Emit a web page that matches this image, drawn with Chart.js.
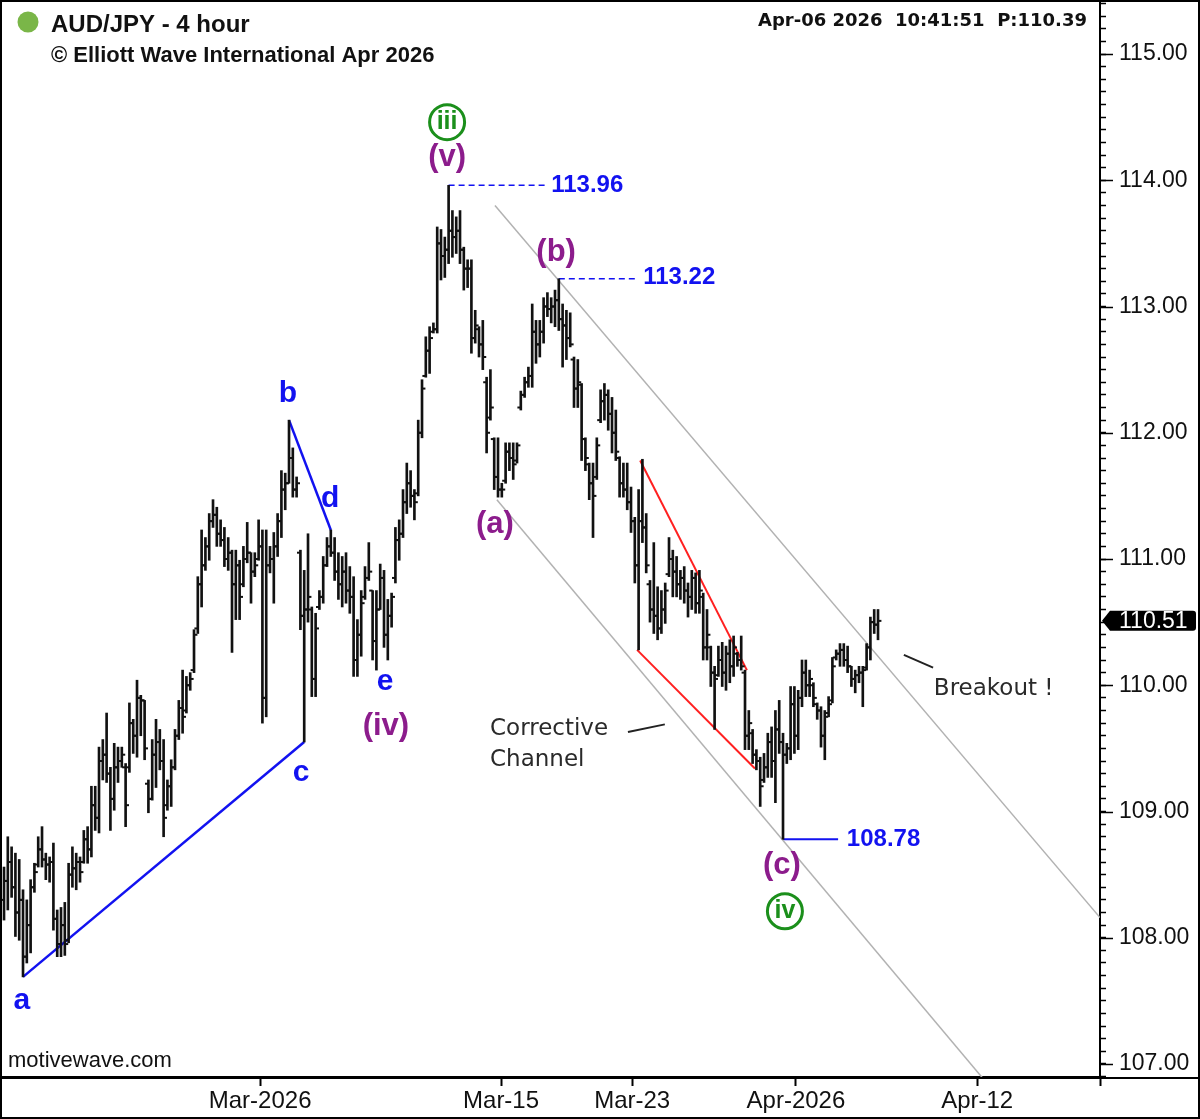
<!DOCTYPE html>
<html>
<head>
<meta charset="utf-8">
<script src="https://cdn.jsdelivr.net/npm/chart.js@4.4.1/dist/chart.umd.min.js"></script>
<style>
  html, body { margin: 0; padding: 0; background: #fff; }
  canvas { display: block; }
</style>
</head>
<body>
<canvas id="chart" width="1200" height="1119" style="width:1200px;height:1119px"></canvas>
<script>
// AUD/JPY 4 hour bars (bar index 0 = first bar on the left)
const highs = [
  108.56,108.80,108.72,108.67,108.62,108.38,108.30,108.46,108.59,108.80,
  108.88,108.67,108.64,108.75,108.22,108.24,108.28,108.59,108.72,108.67,
  108.64,108.85,108.88,109.20,109.20,109.51,109.57,109.78,109.35,109.54,
  109.51,109.51,109.38,109.86,109.73,110.04,109.92,109.88,109.25,109.57,
  109.73,109.65,109.57,109.25,109.41,109.65,109.88,110.12,110.07,110.10,
  110.44,110.86,111.23,111.17,111.36,111.47,111.41,111.31,111.25,111.17,
  111.07,111.07,110.99,111.10,111.29,111.05,111.05,111.31,111.23,111.23,
  111.10,111.21,111.36,111.70,111.68,112.10,111.88,111.65,111.07,110.91,
  111.20,110.62,110.57,110.75,111.02,111.17,111.23,111.17,111.05,111.02,
  111.05,110.94,110.86,110.52,110.75,110.94,111.13,110.75,110.75,110.96,
  110.91,110.68,110.73,111.25,111.31,111.55,111.76,111.70,111.55,112.10,
  112.42,112.76,112.84,112.87,113.63,113.61,113.55,113.96,113.76,113.71,
  113.76,113.47,113.37,113.37,112.97,112.84,112.89,112.44,112.50,111.96,
  111.96,111.60,111.92,111.92,111.92,111.92,112.33,112.44,112.52,113.02,
  112.89,112.89,113.07,113.11,113.07,113.13,113.22,113.02,112.97,112.95,
  112.60,112.58,112.39,111.96,111.76,111.76,111.96,112.34,112.39,112.34,
  112.28,112.18,111.81,111.76,111.76,111.57,111.33,111.55,111.79,111.36,
  110.83,111.13,110.78,110.75,110.81,111.17,111.07,111.02,110.91,110.94,
  110.81,110.91,110.89,110.91,110.73,110.60,110.31,110.15,110.31,110.34,
  110.31,110.36,110.39,110.26,110.39,110.12,109.80,109.65,109.49,109.43,
  109.46,109.62,109.67,109.80,109.88,109.62,109.54,109.99,109.99,109.96,
  110.20,110.20,110.12,110.02,109.86,109.83,109.80,109.91,110.22,110.28,
  110.33,110.33,110.31,110.15,110.12,110.15,110.15,110.33,110.54,110.60,
  110.60
];
const lows = [
  108.14,108.22,108.32,108.01,107.98,107.69,107.80,107.88,108.36,108.56,
  108.56,108.46,108.44,108.06,107.85,107.85,107.86,107.96,108.40,108.38,
  108.44,108.59,108.59,108.64,108.85,108.83,109.25,109.23,108.85,109.01,
  109.23,109.35,108.88,109.31,109.46,109.43,109.60,109.41,108.99,109.09,
  109.19,109.33,108.80,109.01,109.04,109.33,109.57,109.62,109.78,109.96,
  110.10,110.41,110.62,110.91,110.99,111.25,111.10,111.10,110.94,110.91,
  110.26,110.52,110.52,110.78,110.97,110.65,110.86,110.99,109.70,109.75,
  110.89,110.65,111.02,111.17,111.39,111.60,111.49,111.49,110.44,109.55,
  110.50,109.91,109.91,110.60,110.65,110.94,111.02,110.83,110.68,110.62,
  110.65,110.57,110.07,110.07,110.23,110.68,110.83,110.20,110.12,110.60,
  110.30,110.20,110.46,110.81,110.99,111.17,111.36,111.41,111.31,111.50,
  111.96,112.44,112.47,112.79,112.79,113.21,113.23,113.34,113.39,113.42,
  113.34,113.13,113.15,112.63,112.71,112.60,112.50,111.84,112.10,111.55,
  111.49,111.49,111.60,111.70,111.63,111.76,112.18,112.28,112.36,112.36,
  112.55,112.60,112.71,112.92,112.87,112.84,112.81,112.52,112.58,112.68,
  112.20,112.20,111.78,111.70,111.47,111.17,111.63,112.08,112.10,112.02,
  111.84,111.78,111.49,111.49,111.39,111.21,110.81,110.28,111.13,110.89,
  110.50,110.41,110.36,110.41,110.49,110.86,110.70,110.70,110.68,110.65,
  110.54,110.60,110.57,110.57,110.20,110.20,109.99,109.65,110.07,109.99,
  109.96,110.02,110.07,110.15,110.12,109.49,109.49,109.38,109.33,109.04,
  109.23,109.27,109.27,109.07,109.46,108.78,109.38,109.41,109.46,109.49,
  109.83,109.91,109.91,109.83,109.73,109.51,109.41,109.75,109.86,110.20,
  110.15,110.15,110.10,109.99,109.94,110.02,109.83,110.12,110.20,110.41,
  110.36
];
const opens = [
  108.30,108.45,108.60,108.40,108.20,108.30,107.85,108.10,108.40,108.58,
  108.70,108.62,108.58,108.60,108.15,107.95,108.10,107.98,108.50,108.55,
  108.60,108.60,108.78,108.70,109.05,108.95,109.40,109.45,109.30,109.10,
  109.35,109.40,109.35,109.35,109.70,109.60,109.90,109.88,109.22,109.10,
  109.45,109.55,109.40,109.05,109.20,109.35,109.60,109.82,109.80,110.00,
  110.12,110.45,110.80,110.95,111.10,111.30,111.35,111.20,111.15,111.00,
  111.05,110.80,110.95,110.80,111.00,111.05,110.90,111.00,111.10,109.90,
  110.95,111.00,111.10,111.30,111.55,111.60,111.80,111.55,111.05,110.55,
  110.60,110.60,110.05,110.62,110.70,110.95,111.10,111.05,110.90,110.80,
  110.90,110.75,110.70,110.20,110.40,110.70,110.85,110.75,110.35,110.60,
  110.85,110.40,110.55,110.85,111.15,111.20,111.45,111.60,111.50,111.52,
  112.00,112.45,112.65,112.80,112.82,113.50,113.40,113.45,113.60,113.55,
  113.60,113.45,113.30,113.30,112.75,112.82,112.70,112.40,112.12,111.95,
  111.65,111.55,111.62,111.85,111.80,111.78,112.20,112.30,112.40,112.45,
  112.80,112.70,112.80,113.00,112.98,113.00,113.05,112.90,112.85,112.75,
  112.58,112.35,112.38,111.95,111.75,111.60,111.65,112.10,112.25,112.30,
  112.15,112.00,111.80,111.60,111.55,111.45,111.30,110.95,111.30,111.25,
  110.80,110.60,110.55,110.45,110.60,110.88,111.00,110.90,110.80,110.85,
  110.75,110.70,110.85,110.65,110.70,110.30,110.30,110.10,110.08,110.20,
  110.10,110.25,110.15,110.25,110.20,110.10,109.60,109.62,109.45,109.40,
  109.25,109.35,109.55,109.40,109.65,109.55,109.45,109.50,109.85,109.60,
  109.90,110.10,110.00,110.00,109.85,109.80,109.60,109.78,109.88,110.22,
  110.25,110.28,110.20,110.15,110.05,110.08,110.10,110.14,110.30,110.50,
  110.48
];
const closes = [
  108.45,108.60,108.40,108.20,108.30,107.85,108.10,108.40,108.52,108.70,
  108.62,108.58,108.60,108.15,107.95,108.10,107.95,108.50,108.55,108.60,
  108.52,108.78,108.70,109.05,108.95,109.40,109.45,109.30,109.10,109.35,
  109.40,109.45,109.05,109.70,109.60,109.90,109.88,109.50,109.10,109.45,
  109.55,109.40,108.95,109.20,109.35,109.60,109.82,109.75,110.00,110.05,
  110.40,110.80,110.95,111.10,111.30,111.35,111.20,111.15,111.00,111.05,
  110.80,110.95,110.70,111.00,111.05,110.90,110.95,111.10,109.90,110.95,
  111.00,111.10,111.30,111.55,111.60,111.80,111.55,111.60,110.55,110.60,
  110.70,110.05,110.45,110.70,110.95,111.10,111.05,110.90,110.80,110.90,
  110.75,110.70,110.20,110.40,110.65,110.85,110.90,110.35,110.60,110.85,
  110.40,110.55,110.70,111.15,111.20,111.45,111.60,111.50,111.45,112.00,
  112.35,112.65,112.75,112.82,113.50,113.40,113.45,113.60,113.55,113.60,
  113.45,113.30,113.30,112.75,112.85,112.70,112.60,112.00,112.20,111.65,
  111.55,111.55,111.85,111.80,111.75,111.90,112.30,112.40,112.45,112.80,
  112.70,112.80,113.00,112.98,113.00,113.05,112.90,112.85,112.75,112.70,
  112.35,112.40,111.95,111.80,111.60,111.50,111.90,112.25,112.30,112.15,
  112.00,111.85,111.60,111.55,111.45,111.30,110.95,111.30,111.25,110.95,
  110.60,110.55,110.45,110.60,110.75,111.00,110.90,110.80,110.85,110.75,
  110.70,110.85,110.65,110.75,110.30,110.40,110.10,110.05,110.20,110.10,
  110.25,110.15,110.30,110.20,110.15,109.60,109.70,109.45,109.40,109.20,
  109.35,109.55,109.40,109.65,109.55,109.45,109.50,109.85,109.60,109.90,
  110.10,110.00,110.05,109.90,109.80,109.60,109.75,109.85,110.15,110.25,
  110.28,110.20,110.15,110.05,110.08,110.10,110.12,110.30,110.50,110.48,
  110.51
];

// date axis (positions in bar units)
const dateTickPos = [67.4, 130.8, 165.3, 208.4, 256.1, 288.42];
const dateTickLabels = ['Mar-2026', 'Mar-15', 'Mar-23', 'Apr-2026', 'Apr-12', ''];

// wave count annotations: [text, bar, price]
const blueLabels = [['a', 4.7, 107.50], ['b', 74.7, 112.31], ['c', 78.2, 109.31], ['d', 85.8, 111.48], ['e', 100.3, 110.03]];
const purpleLabels = [['(iv)', 100.5, 109.67], ['(v)', 116.6, 114.18], ['(b)', 145.3, 113.43], ['(a)', 129.2, 111.27], ['(c)', 204.7, 108.57]];
const circledLabels = [['iii', 116.6, 114.46], ['iv', 205.5, 108.21]];
const levelLabels = [['113.96', 144.0, 113.96], ['113.22', 168.2, 113.23], ['108.78', 221.8, 108.78]];
const noteLabels = [['Corrective', 127.9, 109.65], ['Channel', 127.9, 109.41], ['Breakout !', 244.7, 109.97]];

const triangleLines = [[[5, 107.69], [79, 109.55]], [[75, 112.10], [86, 111.23]]];
const channelLines = [[[129.2, 113.80], [288.42, 108.16]], [[129.7, 111.47], [260, 106.80]]];
const wedgeLines = [[[167.4, 111.78], [195.5, 110.12]], [[166.6, 110.28], [197.6, 109.34]]];
const dashedLevels = [[[117, 113.96], [143.2, 113.96]], [[146, 113.22], [166, 113.22]]];
const solidLevels = [[[205, 108.78], [219.5, 108.78]]];
const pointerLines = [[[164.2, 109.63], [173.9, 109.69]], [[236.8, 110.24], [244.5, 110.14]]];

const BLUE = '#1212f0';
const PURPLE = '#8c1c8c';
const GREEN = '#1b8f1b';
const SANS = '"Liberation Sans", Arial, sans-serif';
const DEJA = '"DejaVu Sans", Verdana, sans-serif';

function segDatasets(list, color, width, dash) {
  return list.map(seg => ({
    type: 'line',
    data: seg.map(p => ({ x: p[0], y: p[1] })),
    borderColor: color,
    borderWidth: width,
    borderDash: dash || [],
    pointRadius: 0,
    fill: false,
    tension: 0,
    order: 5
  }));
}

const idx = highs.map((_, i) => i);

const overlay = {
  id: 'overlay',
  beforeDraw(chart) {
    const c = chart.ctx;
    c.save();
    c.fillStyle = '#fff';
    c.fillRect(0, 0, chart.width, chart.height);
    c.restore();
  },
  afterDatasetsDraw(chart) {
    const c = chart.ctx, xs = chart.scales.x, ys = chart.scales.y;
    const put = (list, font, color, align) => {
      c.font = font;
      c.fillStyle = color;
      c.textAlign = align;
      c.textBaseline = 'middle';
      list.forEach(l => c.fillText(l[0], xs.getPixelForValue(l[1]), ys.getPixelForValue(l[2])));
    };
    c.save();
    put(blueLabels, 'bold 30px ' + SANS, BLUE, 'center');
    put(purpleLabels, 'bold 31px ' + SANS, PURPLE, 'center');
    put(levelLabels, 'bold 24px ' + SANS, BLUE, 'left');
    put(noteLabels, '23px ' + DEJA, '#2a2a2a', 'left');
    circledLabels.forEach(l => {
      const x = xs.getPixelForValue(l[1]), y = ys.getPixelForValue(l[2]);
      c.beginPath();
      c.arc(x, y, 17.5, 0, Math.PI * 2);
      c.fillStyle = '#fff';
      c.fill();
      c.lineWidth = 3;
      c.strokeStyle = GREEN;
      c.stroke();
    });
    put(circledLabels, 'bold 25px ' + SANS, GREEN, 'center');
    c.restore();
  },
  afterDraw(chart) {
    const c = chart.ctx, ys = chart.scales.y, area = chart.chartArea;
    c.save();
    // long ticks on whole prices
    c.strokeStyle = '#000';
    c.lineWidth = 1.5;
    for (let v = 107; v <= 115; v++) {
      const y = Math.round(ys.getPixelForValue(v)) + 0.5;
      c.beginPath();
      c.moveTo(area.right, y);
      c.lineTo(area.right + 13, y);
      c.stroke();
    }
    // axis line under the date labels runs the full width
    c.lineWidth = 2;
    c.beginPath();
    c.moveTo(0, area.bottom + 1);
    c.lineTo(chart.width, area.bottom + 1);
    c.stroke();
    // outer frame
    c.strokeRect(1, 1, chart.width - 2, chart.height - 2);

    // last price marker
    const last = closes[closes.length - 1];
    const py = ys.getPixelForValue(last);
    const x0 = area.right + 2;
    c.fillStyle = '#000';
    c.beginPath();
    c.moveTo(x0, py);
    c.lineTo(x0 + 8, py - 10);
    c.lineTo(x0 + 91, py - 10);
    c.quadraticCurveTo(x0 + 94, py - 10, x0 + 94, py - 7);
    c.lineTo(x0 + 94, py + 7);
    c.quadraticCurveTo(x0 + 94, py + 10, x0 + 91, py + 10);
    c.lineTo(x0 + 8, py + 10);
    c.closePath();
    c.fill();
    c.fillStyle = '#fff';
    c.font = '23px ' + SANS;
    c.textAlign = 'left';
    c.textBaseline = 'middle';
    c.fillText(last.toFixed(2), x0 + 17, py + 1);

    // header
    c.fillStyle = '#7ab648';
    c.beginPath();
    c.arc(28, 22, 10.5, 0, Math.PI * 2);
    c.fill();
    c.fillStyle = '#111';
    c.textBaseline = 'alphabetic';
    c.font = 'bold 24px ' + SANS;
    c.fillText('AUD/JPY - 4 hour', 51, 32);
    c.font = 'bold 22px ' + SANS;
    c.fillText('\u00A9 Elliott Wave International Apr 2026', 51, 62);
    c.font = 'bold 18px ' + DEJA;
    c.textAlign = 'right';
    c.fillText('Apr-06 2026  10:41:51  P:110.39', 1087, 26);
    c.textAlign = 'left';
    c.font = '22px ' + SANS;
    c.fillText('motivewave.com', 8, 1067);
    c.restore();
  }
};

new Chart(document.getElementById('chart'), {
  type: 'bar',
  data: {
    datasets: [
      {
        type: 'bar',
        data: idx.map(i => ({ x: i, y: [lows[i], highs[i]] })),
        backgroundColor: '#111',
        borderWidth: 0,
        barThickness: 2,
        order: 1
      },
      {
        type: 'scatter',
        data: idx.map(i => ({ x: i - 0.45, y: opens[i] })),
        pointStyle: 'line',
        pointRadius: 1.7,
        pointBorderWidth: 2,
        pointBorderColor: '#111',
        order: 1
      },
      {
        type: 'scatter',
        data: idx.map(i => ({ x: i + 0.45, y: closes[i] })),
        pointStyle: 'line',
        pointRadius: 1.7,
        pointBorderWidth: 2,
        pointBorderColor: '#111',
        order: 1
      },
      ...segDatasets(channelLines, '#b2b2b2', 1.5),
      ...segDatasets(triangleLines, BLUE, 2.5),
      ...segDatasets(wedgeLines, '#ff2020', 2),
      ...segDatasets(dashedLevels, BLUE, 1.5, [6, 4]),
      ...segDatasets(solidLevels, BLUE, 2),
      ...segDatasets(pointerLines, '#222', 2)
    ]
  },
  options: {
    responsive: false,
    devicePixelRatio: 1,
    animation: false,
    events: [],
    layout: { autoPadding: false, padding: { left: 2, top: 2, right: 3, bottom: 2 } },
    plugins: { legend: { display: false }, tooltip: { enabled: false } },
    scales: {
      x: {
        type: 'linear',
        min: -0.53,
        max: 288.42,
        offset: false,
        afterBuildTicks: s => { s.ticks = dateTickPos.map(v => ({ value: v })); },
        afterFit: s => { s.height = 40; s.paddingLeft = 0; s.paddingRight = 0; },
        ticks: {
          autoSkip: false,
          maxRotation: 0,
          padding: 1,
          color: '#111',
          font: { family: SANS, size: 24 },
          callback: (v, i) => dateTickLabels[i]
        },
        grid: { drawOnChartArea: false, drawTicks: true, tickLength: 9, tickColor: '#000', tickWidth: 2, offset: false },
        border: { display: true, color: '#000', width: 2 }
      },
      y: {
        type: 'linear',
        position: 'right',
        min: 106.897,
        max: 115.412,
        afterBuildTicks: s => {
          const t = [];
          for (let k = 1069; k <= 1154; k++) t.push({ value: k / 10 });
          s.ticks = t;
        },
        afterFit: s => { s.width = 97; s.paddingTop = 0; s.paddingBottom = 0; },
        ticks: {
          autoSkip: false,
          padding: 13,
          color: '#111',
          font: { family: SANS, size: 23 },
          callback: v => (Math.abs(v - Math.round(v)) < 1e-6 ? v.toFixed(2) : '')
        },
        grid: { drawOnChartArea: false, drawTicks: true, tickLength: 6, tickColor: '#000', tickWidth: 1.5 },
        border: { display: true, color: '#000', width: 2 }
      }
    }
  },
  plugins: [overlay]
});
</script>
</body>
</html>
